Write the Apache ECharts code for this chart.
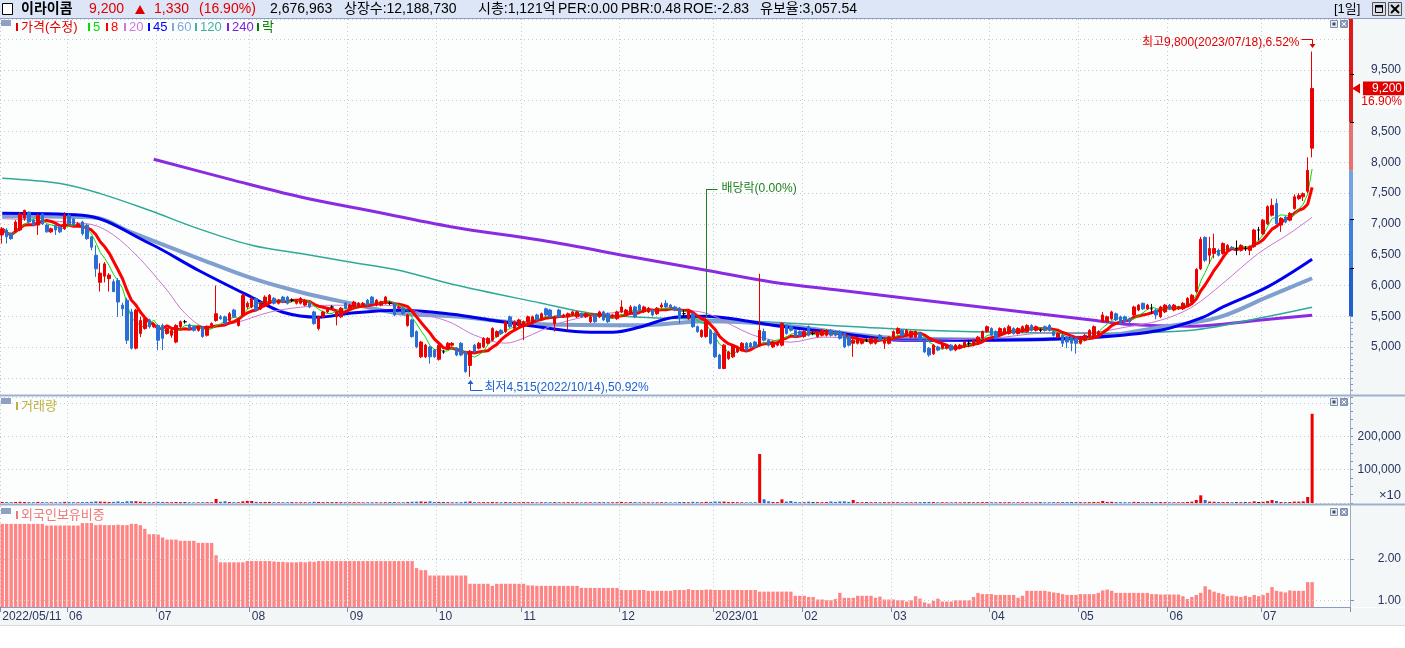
<!DOCTYPE html>
<html><head><meta charset="utf-8">
<script src="https://cdn.jsdelivr.net/npm/echarts@6/dist/echarts.min.js"></script>
<style>html,body{margin:0;padding:0;background:#fff;}#c{width:1405px;height:648px;}</style>
</head><body><div id="c"></div>
<script>
// ---------------- DATA ----------------
const monthDays = [
 ['2022/05',[11,12,13,16,17,18,19,20,23,24,25,26,27,30,31]],
 ['2022/06',[2,3,7,8,9,10,13,14,15,16,17,20,21,22,23,24,27,28,29,30]],
 ['2022/07',[1,4,5,6,7,8,11,12,13,14,15,18,19,20,21,22,25,26,27,28,29]],
 ['2022/08',[1,2,3,4,5,8,9,10,11,12,16,17,18,19,22,23,24,25,26,29,30,31]],
 ['2022/09',[1,2,5,6,7,8,13,14,15,16,19,20,21,22,23,26,27,28,29,30]],
 ['2022/10',[4,5,6,7,11,12,13,14,17,18,19,20,21,24,25,26,27,28,31]],
 ['2022/11',[1,2,3,4,7,8,9,10,11,14,15,16,17,18,21,22,23,24,25,28,29,30]],
 ['2022/12',[1,2,5,6,7,8,9,12,13,14,15,16,19,20,21,22,23,26,27,28,29]],
 ['2023/01',[2,3,4,5,6,9,10,11,12,13,16,17,18,19,20,25,26,27,30,31]],
 ['2023/02',[1,2,3,6,7,8,9,10,13,14,15,16,17,20,21,22,23,24,27,28]],
 ['2023/03',[2,3,6,7,8,9,10,13,14,15,16,17,20,21,22,23,24,27,28,29,30,31]],
 ['2023/04',[3,4,5,6,7,10,11,12,13,14,17,18,19,20,21,24,25,26,27,28]],
 ['2023/05',[2,3,4,8,9,10,11,12,15,16,17,18,19,22,23,24,25,26,30,31]],
 ['2023/06',[1,2,5,7,8,9,12,13,14,15,16,19,20,21,22,23,26,27,28,29,30]],
 ['2023/07',[3,4,5,6,7,10,11,12,13,14,17,18]]
];
// [open, close, low, high]
const candles = [
[6820,6920,6680,6950],[6900,6790,6680,6930],[6840,6760,6740,6860],[6870,7030,6850,7060],[6900,7160,6880,7190],[7090,7220,7050,7230],[7190,7030,7000,7200],[7060,6980,6960,7080],[6980,7140,6820,7170],[7160,7000,6980,7170],
[6980,6870,6860,7000],[6870,6920,6850,6940],[6970,6900,6820,6990],[6950,6870,6850,6970],[6920,7140,6900,7190],[7140,7000,6980,7170],[7080,6980,6960,7100],[6980,7000,6950,7030],[7030,6840,6810,7050],[6980,6760,6740,7000],
[6790,6620,6570,6800],[6490,6270,6140,6650],[6050,6200,5900,6360],[6150,6350,6050,6380],[6110,6170,5900,6200],[6060,5900,5890,6100],[6080,5730,5490,6120],[5680,5620,5500,5720],[5760,5110,5050,5800],[5570,4980,4960,5620],
[4980,5600,4960,5620],[5220,5430,5160,5490],[5300,5460,5280,5480],[5440,5330,5300,5460],[5330,5380,5310,5400],[5350,5110,4950,5370],[5350,5140,4950,5380],[5220,5300,5200,5320],[5190,5270,5150,5290],[5080,5350,5060,5370],
[5330,5410,5300,5430],[5410,5410,5380,5440],[5360,5300,5280,5380],[5330,5270,5250,5340],[5270,5330,5250,5350],[5330,5170,5150,5340],[5190,5330,5170,5350],[5350,5380,5330,5400],[5430,5540,5410,6000],[5490,5460,5440,5520],
[5490,5380,5360,5510],[5430,5540,5410,5570],[5600,5490,5470,5620],[5350,5460,5330,5480],[5520,5840,5500,5870],[5650,5710,5620,5740],[5650,5790,5630,5810],[5790,5600,5580,5810],[5620,5710,5600,5730],[5680,5810,5660,5840],
[5710,5840,5690,5860],[5790,5710,5690,5810],[5710,5760,5690,5780],[5810,5730,5710,5830],[5810,5710,5690,5830],[5760,5760,5730,5790],[5710,5760,5690,5780],[5710,5790,5690,5810],[5680,5760,5660,5780],[5710,5650,5630,5730],
[5570,5380,5360,5590],[5300,5490,5270,5510],[5490,5570,5470,5590],[5570,5630,5550,5650],[5650,5650,5620,5680],[5490,5570,5350,5590],[5490,5630,5470,5650],[5710,5630,5610,5730],[5630,5680,5610,5700],[5650,5730,5630,5750],
[5650,5710,5630,5730],[5680,5710,5660,5730],[5760,5680,5660,5780],[5810,5710,5690,5830],[5680,5760,5660,5780],[5680,5730,5660,5750],[5710,5810,5690,5830],[5710,5710,5680,5740],[5710,5520,5500,5730],[5630,5650,5610,5670],
[5630,5540,5520,5650],[5350,5520,5330,5540],[5440,5170,5150,5460],[5250,5000,4980,5270],[4840,5080,4820,5100],[4840,5030,4820,5050],[5000,4840,4730,5020],[4950,4840,4820,4970],[4800,5030,4780,5060],[4920,4920,4890,4950],
[4970,5060,4950,5080],[5030,5060,5010,5080],[4980,4870,4850,5000],[5060,4870,4850,5080],[4920,4600,4580,4940],[4700,4920,4515,4950],[5030,4920,4900,5050],[4980,5060,4960,5080],[5000,5140,4980,5160],[5060,5140,5040,5160],
[5110,5300,5090,5320],[5170,5250,5150,5270],[5270,5220,5200,5290],[5250,5410,5230,5430],[5490,5330,5310,5510],[5300,5410,5280,5430],[5350,5440,5330,5460],[5330,5410,5110,5430],[5410,5490,5390,5510],[5380,5490,5360,5510],
[5520,5440,5420,5540],[5460,5540,5440,5560],[5620,5520,5500,5640],[5600,5490,5470,5620],[5380,5490,5250,5510],[5600,5490,5470,5620],[5490,5520,5470,5540],[5490,5540,5270,5560],[5520,5570,5500,5590],[5490,5570,5470,5590],
[5540,5490,5470,5560],[5490,5540,5470,5560],[5410,5490,5390,5510],[5520,5410,5390,5540],[5490,5570,5470,5590],[5570,5440,5420,5590],[5540,5410,5390,5560],[5490,5520,5470,5540],[5460,5570,5440,5590],[5570,5650,5550,5760],
[5540,5600,5520,5620],[5540,5650,5520,5680],[5650,5490,5470,5670],[5680,5600,5580,5700],[5570,5650,5550,5670],[5570,5630,5550,5650],[5600,5520,5500,5620],[5540,5630,5520,5650],[5650,5680,5630,5720],[5710,5650,5630,5760],
[5680,5650,5630,5700],[5650,5600,5580,5670],[5630,5460,5380,5650],[5540,5540,5490,5600],[5460,5570,5440,5590],[5540,5330,5310,5560],[5330,5250,5230,5350],[5170,5270,5150,5290],[5170,5410,5150,5490],[5270,5060,5040,5290],
[5220,4840,4820,5240],[4870,4650,4640,4890],[4650,5030,4640,5050],[4810,4920,4790,4940],[4840,5030,4820,5050],[4920,5000,4900,5020],[4950,5060,4930,5080],[5060,4950,4930,5080],[5060,5000,4980,5080],[5080,5000,4980,5100],
[5030,5270,5000,6190],[5250,5110,5090,5300],[5110,5030,5010,5130],[5000,5080,4980,5100],[5030,5080,5010,5100],[5030,5380,5010,5400],[5350,5220,5200,5370],[5330,5270,5250,5350],[5270,5170,5150,5290],[5250,5190,5170,5270],
[5170,5250,5150,5270],[5330,5190,5170,5350],[5220,5220,5190,5250],[5170,5250,5150,5270],[5190,5270,5170,5290],[5190,5270,5170,5290],[5270,5190,5170,5290],[5250,5190,5170,5270],[5250,5140,5120,5270],[5220,5000,4980,5240],
[5170,5030,5010,5190],[5060,5110,4840,5130],[5060,5140,5040,5160],[5060,5110,5040,5130],[5110,5110,5080,5140],[5060,5140,5040,5160],[5060,5140,5040,5160],[5190,5110,5090,5210],[5060,5110,4970,5130],[5060,5160,5040,5180],
[5160,5250,5140,5270],[5220,5300,5200,5320],[5270,5190,5170,5290],[5190,5270,5170,5290],[5160,5250,5140,5270],[5160,5250,5140,5270],[5220,5110,5090,5240],[5080,4920,4900,5100],[4980,4870,4840,5000],[4890,5030,4870,5050],
[5000,4950,4930,5020],[4980,5060,4960,5080],[4980,5030,4960,5050],[5030,4950,4930,5050],[4950,5030,4930,5050],[4980,5030,4960,5050],[5000,5080,4980,5100],[5060,5060,5020,5100],[5030,5110,5010,5130],[5080,5160,5060,5180],
[5140,5250,5120,5270],[5250,5330,5230,5350],[5300,5190,5170,5320],[5250,5140,5120,5270],[5190,5300,5170,5320],[5220,5300,5200,5320],[5220,5330,5200,5360],[5300,5220,5200,5320],[5220,5300,5200,5320],[5250,5330,5230,5350],
[5250,5350,5230,5370],[5350,5270,5250,5370],[5270,5330,5250,5350],[5270,5270,5240,5300],[5330,5270,5250,5350],[5350,5270,5250,5370],[5250,5190,5170,5270],[5160,5220,5140,5240],[5190,5060,5000,5210],[5160,5080,4980,5180],
[5160,5060,4930,5180],[5140,5060,4890,5160],[5060,5160,5040,5180],[5110,5190,5090,5210],[5160,5270,5140,5290],[5190,5330,5170,5350],[5190,5250,5170,5270],[5410,5520,5390,5570],[5410,5490,5390,5510],[5460,5570,5440,5590],
[5540,5440,5420,5560],[5490,5380,5360,5510],[5490,5410,5390,5510],[5460,5410,5390,5480],[5520,5650,5500,5670],[5600,5680,5580,5700],[5710,5620,5600,5720],[5620,5680,5600,5700],[5620,5620,5540,5700],[5600,5520,5450,5620],
[5490,5650,5470,5670],[5570,5680,5550,5700],[5680,5620,5600,5700],[5600,5680,5580,5700],[5620,5650,5600,5670],[5620,5710,5600,5730],[5680,5790,5660,5810],[5730,5840,5710,5860],[5900,6260,5880,6280],[6270,6750,6250,6790],
[6780,6410,6380,6800],[6490,6600,6350,6790],[6520,6600,6440,6840],[6570,6490,6470,6600],[6520,6680,6500,6700],[6570,6650,6550,6670],[6620,6600,6580,6640],[6600,6600,6490,6730],[6570,6650,6550,6670],[6600,6600,6560,6640],
[6570,6630,6490,6650],[6630,6900,6610,6920],[6900,6900,6730,6950],[6840,7060,6820,7080],[7000,7280,6980,7300],[7140,7300,7120,7410],[7330,7000,6980,7410],[6980,7090,6870,7110],[7110,7030,7010,7130],[7060,7170,7040,7190],
[7250,7440,7230,7480],[7410,7460,7390,7500],[7440,7490,7370,7510],[7530,7870,7500,8080],[8230,9200,8080,9800]
];
// volume (x10 shares)
const volumes = [
3200,2800,2500,3100,3600,3000,2700,2400,3300,2600,2300,2100,2500,2200,3400,2900,2600,2200,2800,3100,
3500,4800,4200,3600,3000,3400,4600,3000,5200,5400,5000,3800,3000,2600,2300,3400,3200,2500,2300,3000,
2600,2100,2200,2000,2100,2500,2400,2200,12000,3600,5200,3100,2600,2400,4800,6200,6000,3500,2600,3000,
3200,2600,2300,2400,2200,1900,2100,2300,2200,2400,3600,3200,2500,2300,1900,2600,2500,2300,2200,2400,
2100,1900,2100,2300,2000,1900,2300,1800,3000,2000,2200,2800,3600,4000,4600,3600,5000,3000,3200,2100,
2400,2100,2300,2600,3800,4600,2700,2300,2600,2300,3200,2500,2200,2800,2900,2400,2300,2600,2400,2300,
2200,2300,2600,2400,2700,2500,2100,2400,2200,2300,2000,2100,2200,2300,2400,2600,2500,2100,2400,3200,
2200,2600,2800,2300,2200,2100,2300,2200,2400,2500,2000,2100,3000,2000,2300,3400,2800,2400,3500,3200,
4200,4000,4400,2800,3000,2400,2300,2200,2100,2300,147000,11000,5000,3000,2600,11000,4200,6000,3200,2600,
2400,4000,2300,2600,2500,2800,4500,3200,4500,5000,3200,9000,2600,2400,2200,2300,2400,2300,2500,2300,
2600,2500,2300,2200,2100,2200,2600,3000,3200,2800,2200,2300,2100,2200,2100,2000,2200,1900,2200,2300,
2600,2800,2500,2400,2300,2200,2400,2100,2200,2300,2400,2200,2100,1900,2100,2200,2600,2300,3000,2800,
3000,2800,2400,2300,2600,3200,2600,6000,3400,3600,2800,2500,2300,2200,3400,3000,2800,2300,2100,2500,
2800,2600,2300,2200,2100,2400,3200,4000,9000,23000,9000,4200,3600,3000,2800,2600,2400,2200,2300,2100,
2400,5000,2800,3600,5500,9000,6000,3000,2800,3000,4200,4000,5000,18000,267696
];
// foreign ownership ratio (%)
const foreign = [
2.85,2.85,2.85,2.85,2.85,2.85,2.85,2.85,2.85,2.85,2.81,2.81,2.81,2.81,2.81,2.81,2.81,2.81,2.87,2.87,
2.87,2.82,2.83,2.82,2.82,2.82,2.83,2.82,2.82,2.85,2.85,2.82,2.73,2.60,2.60,2.59,2.52,2.47,2.47,2.47,
2.44,2.44,2.44,2.44,2.39,2.39,2.39,2.39,2.09,1.92,1.92,1.92,1.92,1.92,1.92,1.95,1.95,1.95,1.95,1.95,
1.95,1.94,1.93,1.93,1.92,1.92,1.92,1.93,1.92,1.94,1.93,1.95,1.95,1.95,1.95,1.95,1.95,1.95,1.95,1.95,
1.95,1.95,1.95,1.95,1.95,1.95,1.95,1.95,1.95,1.95,1.95,1.95,1.95,1.78,1.73,1.73,1.60,1.60,1.60,1.60,
1.60,1.60,1.60,1.60,1.60,1.40,1.40,1.40,1.40,1.40,1.35,1.40,1.40,1.40,1.40,1.40,1.40,1.40,1.36,1.36,
1.35,1.35,1.35,1.35,1.35,1.35,1.35,1.35,1.35,1.35,1.30,1.30,1.30,1.30,1.30,1.30,1.30,1.30,1.30,1.25,
1.25,1.25,1.25,1.25,1.25,1.23,1.23,1.23,1.23,1.23,1.23,1.25,1.25,1.25,1.27,1.25,1.25,1.25,1.26,1.26,
1.25,1.25,1.25,1.25,1.25,1.25,1.25,1.25,1.25,1.25,1.21,1.21,1.21,1.21,1.21,1.21,1.21,1.21,1.11,1.11,
1.11,1.08,1.08,1.02,1.02,1.00,1.00,1.03,1.18,1.06,1.06,1.06,1.11,1.11,1.11,1.11,1.06,1.09,1.02,1.02,
1.02,1.00,1.00,0.97,1.00,1.10,1.04,0.95,0.92,0.99,1.04,0.97,0.97,0.97,1.00,1.00,1.00,1.00,1.08,1.18,
1.15,1.15,1.15,1.13,1.13,1.13,1.13,1.13,1.06,1.11,1.23,1.23,1.23,1.23,1.23,1.21,1.19,1.18,1.15,1.13,
1.13,1.13,1.15,1.15,1.15,1.15,1.18,1.24,1.26,1.23,1.18,1.18,1.18,1.18,1.18,1.18,1.18,1.18,1.15,1.15,
1.14,1.14,1.14,1.14,1.14,1.10,1.03,1.08,1.13,1.18,1.34,1.26,1.21,1.18,1.15,1.10,1.11,1.10,1.08,1.11,
1.08,1.13,1.10,1.13,1.18,1.32,1.23,1.21,1.19,1.24,1.23,1.23,1.23,1.44,1.44
];
// moving averages: [candle index, value]
const ma20Pts = [[0,7085],[15,7026],[22,6944],[29,6571],[37,5922],[41,5549],[46,5321],[52,5386],[60,5565],[67,5646],[74,5678],[86,5678],[97,5484],[101,5386],[106,5192],[113,5062],[117,5143],[125,5386],[136,5549],[151,5597],[158,5549],[166,5273],[170,5160],[177,5078],[184,5160],[192,5143],[202,5110],[222,5143],[233,5224],[245,5240],[252,5321],[260,5435],[267,5646],[274,6036],[282,6523],[289,6847],[294,7107]];
const ma45Pts = [[0,7172],[18,7139],[33,6685],[44,6247],[56,5808],[63,5565],[71,5484],[78,5549],[89,5597],[101,5532],[110,5435],[121,5321],[132,5240],[137,5240],[143,5321],[151,5484],[158,5500],[166,5435],[173,5354],[188,5224],[202,5110],[222,5110],[245,5159],[260,5273],[269,5468],[274,5650],[284,5976],[294,6425]];
const ma60Pts = [[0,7123],[20,7107],[29,6863],[44,6441],[56,6117],[67,5890],[78,5711],[89,5549],[101,5500],[121,5370],[143,5354],[158,5420],[173,5370],[202,5140],[224,5120],[245,5160],[260,5321],[273,5480],[284,5813],[294,6117]];
const ma120Pts = [[0,7740],[13,7654],[22,7491],[33,7220],[44,6923],[56,6652],[67,6517],[78,6381],[89,6247],[101,6019],[121,5711],[132,5549],[143,5484],[158,5450],[173,5403],[202,5289],[224,5240],[245,5224],[267,5273],[282,5468],[294,5646]];
const ma240Pts = [[34,8050],[52,7707],[67,7437],[82,7220],[101,6950],[121,6733],[143,6441],[158,6247],[173,6052],[188,5920],[202,5800],[222,5630],[245,5435],[252,5370],[267,5338],[282,5435],[294,5516]];
const exDividendDate = '2022/12/28';
const headerInfo = ['2,676,963', '상장수:12,188,730', '시총:1,121억', 'PER:0.00', 'PBR:0.48', 'ROE:-2.83', '유보율:3,057.54'];
// price-range bar on the price axis: [from, to, colour]
const axisBand = [[10328, 8650, '#e01818'], [8650, 7865, '#e87070'], [7865, 7075, '#74a2e2'], [7075, 6290, '#3f7fdc'], [6290, 5500, '#1f5fd0']];
const axisBandMarks = [9437, 8650, 7075, 6290];

// ---------------- BUILD ----------------
const FONT = '"Liberation Sans","Noto Sans CJK KR",sans-serif';
const AXC = '#2a3461';
const TICKC = '#7d8fb5';
const RED = '#ee0000', BLUE = '#2b6fd6';
const PMIN = 4220, PMAX = 10328, VMAX = 318000, FMIN = 0.838, FMAX = 3.283;

const dates = [];
monthDays.forEach(([m, days]) => days.forEach(d => dates.push(m + '/' + String(d).padStart(2, '0'))));
const PAD = 8;
const cats = dates.concat(Array.from({length: PAD}, (_, k) => 'pad' + k));
const N = dates.length;
const closes = candles.map(c => c[1]);
function movingAvg(n) {
  return closes.map((_, i) => { const s = Math.max(0, i - n + 1); let sum = 0; for (let k = s; k <= i; k++) sum += closes[k]; return Math.round(sum / (i - s + 1)); });
}
const ma5 = movingAvg(5), ma8 = movingAvg(8);
const isMonthStart = i => i < N && (i === 0 || dates[i].slice(0, 7) !== dates[i - 1].slice(0, 7));
const monthLabel = i => { if (!isMonthStart(i)) return ''; const d = dates[i]; if (i === 0) return d; const mm = d.slice(5, 7); return mm === '01' ? d.slice(0, 7) : mm; };
const candleColor = i => { const c = candles[i]; return c[1] > c[0] ? RED : (c[1] < c[0] ? BLUE : '#000000'); };
const tickInt = (i) => isMonthStart(i);
const dotted = {color: '#c4c8d2', type: [1, 3], width: 1};

const xAxes = [0, 1, 2].map(g => ({
  type: 'category', gridIndex: g, data: cats, boundaryGap: true,
  axisLine: {show: g === 2, lineStyle: {color: '#8a9cc0'}},
  axisTick: {show: g === 2, interval: tickInt, length: 5, lineStyle: {color: TICKC}},
  axisLabel: {show: g === 2, interval: tickInt, formatter: (v, i) => monthLabel(i), align: 'left', margin: 4, color: AXC, fontSize: 12, fontFamily: FONT},
  splitLine: {show: true, interval: tickInt, lineStyle: dotted}
}));
const yCommon = {type: 'value', position: 'right', axisLine: {show: true, lineStyle: {color: '#9aaac8'}},
  axisTick: {show: true, length: 3, lineStyle: {color: TICKC}}};
const yAxes = [
  Object.assign({}, yCommon, {gridIndex: 0, min: PMIN, max: PMAX, splitNumber: 12,
    minorTick: {show: true, splitNumber: 5, length: 3, lineStyle: {color: TICKC}},
    axisLabel: {formatter: v => (v % 500 === 0 && v >= 5000 && v <= 9500 && v !== 9000) ? v.toLocaleString('en-US') : '', align: 'right', margin: 51, color: AXC, fontSize: 12, fontFamily: FONT},
    splitLine: {show: true, lineStyle: dotted}}),
  Object.assign({}, yCommon, {gridIndex: 1, min: 0, max: VMAX, splitNumber: 3,
    minorTick: {show: true, splitNumber: 4, length: 3, lineStyle: {color: TICKC}},
    axisLabel: {formatter: v => (v === 100000 || v === 200000) ? v.toLocaleString('en-US') : '', align: 'right', margin: 51, color: AXC, fontSize: 12, fontFamily: FONT},
    splitLine: {show: true, lineStyle: dotted}}),
  Object.assign({}, yCommon, {gridIndex: 2, min: FMIN, max: FMAX, splitNumber: 2,
    axisTick: {show: false},
    axisLabel: {formatter: v => (Math.abs(v - 1) < 1e-9 || Math.abs(v - 2) < 1e-9) ? v.toFixed(2) : '', align: 'right', margin: 51, color: AXC, fontSize: 12, fontFamily: FONT},
    splitLine: {show: false}})
];
const maLine = (name, data, color, width) => ({name, type: 'line', xAxisIndex: 0, yAxisIndex: 0, data, showSymbol: false, symbol: 'none', smooth: Array.isArray(data[0]) ? 0.35 : false, lineStyle: {color, width}, silent: true, z: 2});

const option = {
  animation: false, backgroundColor: '#ffffff',
  grid: [
    {left: 0, top: 19, width: 1350, height: 376, outerBoundsMode: 'none', show: true, backgroundColor: '#fcfefe', borderWidth: 0},
    {left: 0, top: 397, width: 1350, height: 106, outerBoundsMode: 'none', show: true, backgroundColor: '#fcfefe', borderWidth: 0},
    {left: 0, top: 506, width: 1350, height: 101, outerBoundsMode: 'none', show: true, backgroundColor: '#fcfefe', borderWidth: 0}
  ],
  xAxis: xAxes, yAxis: yAxes,
  series: [
    maLine('240', ma240Pts, '#8a2be2', 3),
    maLine('120', ma120Pts, '#30a898', 1.5),
    maLine('60', ma60Pts, '#7f9fcf', 4),
    maLine('45', ma45Pts, '#0000ee', 3),
    maLine('20', ma20Pts, '#cc77cc', 1),
    maLine('8', ma8, '#ff0000', 3),
    maLine('5', ma5, '#00e000', 1),
    {name: '가격', type: 'candlestick', xAxisIndex: 0, yAxisIndex: 0, data: candles, barWidth: 3, z: 3,
     itemStyle: {color: RED, color0: BLUE, borderColor: RED, borderColor0: BLUE, borderColorDoji: '#000000', borderWidth: 1}},
    {name: '거래량', type: 'bar', xAxisIndex: 1, yAxisIndex: 1, barWidth: 3, clip: true,
     data: volumes.map((v, i) => ({value: v, itemStyle: {color: candleColor(i)}}))},
    {name: '외국인보유비중', type: 'bar', xAxisIndex: 2, yAxisIndex: 2, barWidth: '76%', clip: true,
     itemStyle: {color: '#ff8585'}, data: foreign,
     markLine: {silent: true, symbol: 'none', label: {show: false}, lineStyle: {color: '#c4c8d2', type: [1, 3], width: 1},
       data: [{yAxis: 1}, {yAxis: 2}]}}
  ]
};

const chart = echarts.init(document.getElementById('c'), null, {renderer: 'canvas'});
chart.setOption(option);

// ---------------- GRAPHICS ----------------
const g = [];
const T = (x, y, text, o = {}) => g.push({type: 'text', x, y, z: o.z || 100, silent: true, style: {text, fill: o.fill || '#000', fontSize: o.size || 12, fontFamily: FONT, fontWeight: o.weight || 'normal', align: o.align || 'left', verticalAlign: 'middle'}});
const L = (x1, y1, x2, y2, stroke, w = 1, z = 100) => g.push({type: 'line', z, silent: true, shape: {x1, y1, x2, y2}, style: {stroke, lineWidth: w}});
const R = (x, y, w, h, fill, stroke, z = 99) => g.push({type: 'rect', z, silent: true, shape: {x, y, width: w, height: h}, style: {fill, stroke: stroke || 'none', lineWidth: 1}});
const P = (pts, fill) => g.push({type: 'polygon', z: 100, silent: true, shape: {points: pts}, style: {fill}});
const px = (i, v) => chart.convertToPixel({xAxisIndex: 0, yAxisIndex: 0}, [i, v]);
const fmt = v => v.toLocaleString('en-US');

// backgrounds of axis column and date strip
R(1351, 19, 54, 588, '#f3f7f7', null, -5);
R(0, 608, 1405, 17, '#f3f6f6', null, -5);

// header bar
R(0, 0, 1405, 18, '#dde6f6', null, 1);
L(0, 18.5, 1405, 18.5, '#8c9fc2');
R(2.5, 3.5, 10, 11, '#ffffff', '#000000');
const last = N - 1, lastClose = closes[last], prevClose = closes[last - 1];
const chg = lastClose - prevClose, pct = (chg / prevClose * 100).toFixed(2);
T(21, 9.5, '이라이콤', {size: 14, weight: 'bold'});
T(89, 9.5, fmt(lastClose), {size: 14, fill: '#e00000'});
P([[135, 14], [145, 14], [140, 5]], '#e00000');
T(154, 9.5, fmt(chg), {size: 14, fill: '#e00000'});
T(199, 9.5, '(' + pct + '%)', {size: 14, fill: '#e00000'});
const hx = [270, 344, 478, 558, 621, 683, 760];
headerInfo.forEach((t, k) => T(hx[k], 9.5, t, {size: 14}));
T(1334, 9.5, '[1일]', {size: 13});
R(1372.5, 2.5, 13, 13, '#d7dce6', '#555');
R(1375.5, 5.5, 7, 7, 'none', '#000');
L(1375, 6.5, 1383, 6.5, '#000', 2);
R(1388.5, 2.5, 13, 13, '#d7dce6', '#555');
L(1391, 5, 1399, 13, '#000', 2); L(1399, 5, 1391, 13, '#000', 2);

// panel separators and borders
L(0, 395.5, 1405, 395.5, '#9fb0cf', 2);
L(0, 504.5, 1405, 504.5, '#9fb0cf', 2);
L(1350.5, 19, 1350.5, 607, '#9aaac8', 1);
L(0, 625.5, 1405, 625.5, '#d6dde4', 1);

// panel icons and buttons
[[20, 20], [398, 398], [508, 508]].forEach(([iy, by]) => {
  R(1, iy, 10, 6, '#8ea1c2');
  R(1330.5, by + 0.5, 7, 7, '#e9edf3', '#7f8fb0');
  R(1332.5, by + 2.5, 3, 3, '#3a4a6a');
  R(1340.5, by + 0.5, 7, 7, '#8d9dbd', '#7f8fb0');
  L(1342, by + 2, 1346, by + 6, '#fff', 1); L(1346, by + 2, 1342, by + 6, '#fff', 1);
});

// legend of price panel
const legendItems = [['가격(수정)', '#e00000', 16], ['5', '#00e000', 88], ['8', '#ff0000', 106], ['20', '#cc77dd', 124], ['45', '#0000ff', 148], ['60', '#80a8d8', 172], ['120', '#40b0a0', 195], ['240', '#8020e0', 227], ['락', '#008000', 257]];
legendItems.forEach(([t, c, x]) => { R(x, 23, 2, 8, c); T(x + 5, 27.5, t, {fill: c, size: 13}); });
R(16, 402, 2, 8, '#c0b040'); T(21, 406, '거래량', {fill: '#c0b040', size: 13});
R(16, 511, 2, 8, '#f07878'); T(21, 515.5, '외국인보유비중', {fill: '#f07878', size: 13});
T(1401, 495, '×10', {fill: AXC, align: 'right', size: 13});

// foreign axis ticks
[1, 2].forEach(v => { const y = Math.round(chart.convertToPixel({yAxisIndex: 2}, v)) + 0.5; L(1350.5, y, 1354, y, TICKC); });

// price-range bar on the price axis
axisBand.forEach(([a, b, c]) => { const ya = Math.max(19, px(0, a)[1]), yb = px(0, b)[1]; R(1349, ya, 4, yb - ya, c, null, 101); });
axisBandMarks.forEach(v => { const y = Math.round(px(0, v)[1]) + 0.5; L(1350, y, 1354, y, '#000', 1, 102); });

// current price tag
const pc = px(last, lastClose);
P([[1352, pc[1]], [1360, pc[1] - 5], [1360, pc[1] + 5]], '#e00000');
R(1363, pc[1] - 7, 41, 14, '#e00000');
T(1402, pc[1], fmt(lastClose), {fill: '#fff', align: 'right'});
R(1360, pc[1] + 7, 44, 13, '#ffffff');
T(1402, pc[1] + 13, pct + '%', {fill: '#e00000', align: 'right'});

// high annotation
let iHi = 0, iLo = 0;
candles.forEach((c, i) => { if (c[3] > candles[iHi][3]) iHi = i; if (c[2] < candles[iLo][2]) iLo = i; });
const hi = candles[iHi][3], lo = candles[iLo][2];
const ph = px(iHi, hi);
const hx0 = Math.round(ph[0]) + 0.5, hy0 = Math.round(ph[1]);
L(hx0 - 11, hy0 - 12.5, hx0, hy0 - 12.5, '#e00000');
L(hx0, hy0 - 12.5, hx0, hy0 - 7, '#e00000');
P([[hx0 - 3, hy0 - 8], [hx0 + 3, hy0 - 8], [hx0, hy0 - 4]], '#e00000');
T(hx0 - 13, hy0 - 9.5, '최고' + fmt(hi) + '(' + dates[iHi] + '),' + ((hi - lastClose) / lastClose * 100).toFixed(2) + '%', {fill: '#e00000', align: 'right'});

// low annotation
const pl = px(iLo, lo);
const lx0 = Math.round(pl[0]) + 0.5, ly0 = Math.round(pl[1]);
P([[lx0 - 3, ly0 + 7], [lx0 + 3, ly0 + 7], [lx0, ly0 + 3]], '#2060d0');
L(lx0, ly0 + 6, lx0, ly0 + 13.5, '#2060d0');
L(lx0, ly0 + 13.5, lx0 + 12, ly0 + 13.5, '#2060d0');
T(lx0 + 14, ly0 + 11, '최저' + fmt(lo) + '(' + dates[iLo] + '),' + ((lastClose - lo) / lastClose * 100).toFixed(2) + '%', {fill: '#2060d0'});

// ex-dividend annotation
const iEx = dates.indexOf(exDividendDate);
const pe = px(iEx, candles[iEx][3]);
const ex0 = Math.round(pe[0]) + 0.5, ey0 = Math.round(pe[1]);
L(ex0, ey0, ex0, ey0 - 128, '#208020');
L(ex0, ey0 - 127.5, ex0 + 11, ey0 - 127.5, '#208020');
T(ex0 + 15, ey0 - 128, '배당락(0.00%)', {fill: '#208020'});

chart.setOption({graphic: {elements: g}});
</script></body></html>
